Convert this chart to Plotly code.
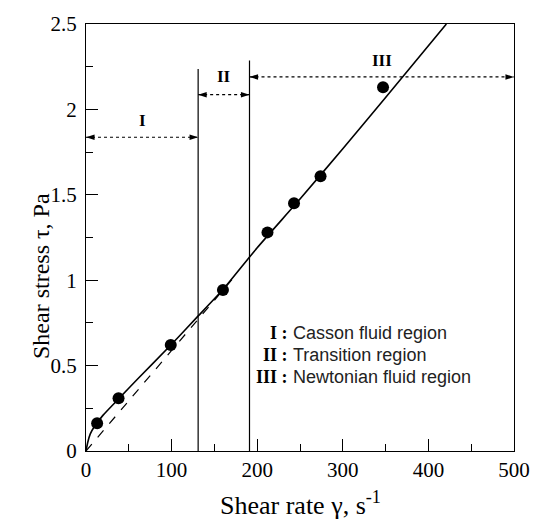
import plotly.graph_objects as go

# measured data points
rate_pts = [13, 38, 99, 160, 212, 243, 274, 347]
stress_pts = [0.163, 0.309, 0.62, 0.943, 1.28, 1.45, 1.609, 2.13]

# fitted (solid) curve
fit_rate = [0, 2, 5, 10, 13, 20, 38, 60, 100, 130, 160, 200, 250, 300, 350, 421]
fit_stress = [0, 0.05, 0.1, 0.145, 0.165, 0.21, 0.305, 0.42, 0.625, 0.785, 0.945, 1.19, 1.475, 1.77, 2.07, 2.5]

# dashed line (Newtonian extrapolation)
dash_rate = [0, 175]
dash_stress = [0, 1.03]

# region boundaries
bound_x = [131, 191]
bound_top = [2.236, 2.287]

# region arrows
reg_labels = ["I", "II", "III"]
reg_start = [0, 131, 191]
reg_end = [131, 191, 500]
reg_y = [1.837, 2.086, 2.19]
reg_label_y = [1.935, 2.19, 2.285]

# key text
key_num = ["I :", "II :", "III :"]
key_desc = ["Casson fluid region", "Transition region", "Newtonian fluid region"]
key_y = [0.688, 0.561, 0.435]

serif = "Liberation Serif"
sans = "Liberation Sans"

fig = go.Figure()

fig.add_trace(go.Scatter(x=dash_rate, y=dash_stress, mode="lines",
                         line=dict(color="black", width=1.2, dash="dash"), showlegend=False))
fig.add_trace(go.Scatter(x=fit_rate, y=fit_stress, mode="lines",
                         line=dict(color="black", width=1.6, shape="spline", smoothing=0.6),
                         showlegend=False))
fig.add_trace(go.Scatter(x=rate_pts, y=stress_pts, mode="markers",
                         marker=dict(color="black", size=12), showlegend=False))

for bx, bt in zip(bound_x, bound_top):
    fig.add_trace(go.Scatter(x=[bx, bx], y=[0, bt], mode="lines",
                             line=dict(color="black", width=1.2), showlegend=False))

for lab, s, e, y, ly in zip(reg_labels, reg_start, reg_end, reg_y, reg_label_y):
    fig.add_trace(go.Scatter(x=[s, e], y=[y, y], mode="lines",
                             line=dict(color="black", width=1.2, dash="dot"), showlegend=False))
    fig.add_trace(go.Scatter(x=[s, e], y=[y, y], mode="markers",
                             marker=dict(symbol="arrow", angle=[-90, 90], color="black", size=9,
                                         line=dict(width=0)),
                             showlegend=False))
    fig.add_annotation(x=(s + e) / 2, y=ly, text="<b>%s</b>" % lab, showarrow=False,
                       font=dict(family=serif, size=17, color="black"))

for num, desc, y in zip(key_num, key_desc, key_y):
    fig.add_annotation(x=238, y=y, text="<b>%s</b>" % num, showarrow=False, xanchor="right",
                       font=dict(family=serif, size=18, color="black"))
    fig.add_annotation(x=240, y=y, text=desc, showarrow=False, xanchor="left",
                       font=dict(family=sans, size=18, color="#222"))

fig.add_annotation(xref="paper", yref="paper", x=0.5, y=-0.122, yanchor="middle",
                   text="Shear rate \u03b3, s<sup>-1</sup>", showarrow=False,
                   font=dict(family=serif, size=26, color="black"))
fig.add_annotation(xref="paper", yref="paper", x=-0.14, y=0.41, textangle=-90,
                   text="Shear stress \u03c4, Pa", showarrow=False,
                   font=dict(family=serif, size=24, color="black"))

axis_common = dict(showline=True, linecolor="black", linewidth=1.3, mirror=True,
                   ticks="inside", ticklen=12, tickwidth=1.3, tickcolor="black",
                   showgrid=False, zeroline=False,
                   tickfont=dict(family=serif, size=21, color="black"))
fig.update_xaxes(range=[0, 500], dtick=100, tick0=0,
                 minor=dict(ticks="inside", ticklen=7, dtick=50, tickcolor="black", tickwidth=1.2),
                 **axis_common)
fig.update_yaxes(range=[0, 2.5], dtick=0.5, tick0=0, ticklabelstandoff=4,
                 minor=dict(ticks="inside", ticklen=7, dtick=0.25, tickcolor="black", tickwidth=1.2),
                 **axis_common)

fig.update_layout(width=542, height=521, margin=dict(l=86, r=21, t=16, b=70),
                  plot_bgcolor="white", paper_bgcolor="white", showlegend=False)

fig.write_html("out.html")
